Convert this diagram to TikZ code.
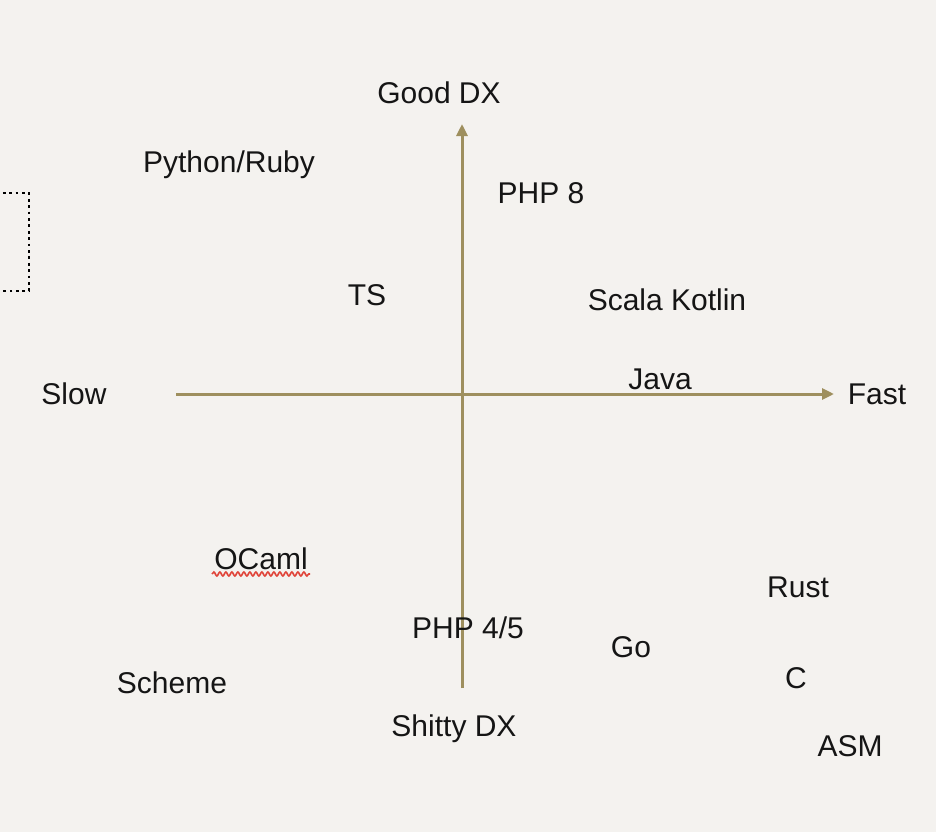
\documentclass[tikz,border=0pt]{standalone}
\usepackage{fontspec}
\setmainfont{Liberation Sans}
\usetikzlibrary{decorations.pathmorphing,arrows.meta}
\definecolor{bg}{HTML}{F4F2EF}
\definecolor{axis}{HTML}{9E8F5E}
\definecolor{txt}{HTML}{151515}
\definecolor{squig}{HTML}{E0453A}
\tikzset{
  lbl/.style={font=\fontsize{30}{34}\selectfont, text=txt, inner sep=0pt, anchor=base},
  axisline/.style={draw=axis, line width=3pt, -{Triangle[length=12pt,width=11pt]}},
}
\begin{document}
\begin{tikzpicture}[x=1pt,y=-1pt]
\useasboundingbox[fill=bg] (0,0) rectangle (936,832);
\coordinate (vb) at (462,688);
\coordinate (vt) at (462,124);
\coordinate (hl) at (176,394);
\coordinate (hr) at (834,394);
\draw[axisline] (vb) -- (vt);
\draw[axisline] (hl) -- (hr);
\draw[black, line width=2.8pt, dash pattern=on 2.8pt off 3.6pt] (-10,193) -- (29,193) -- (29,291) -- (-10,291);
\node[lbl] (good) at (439,103) {Good DX};
\node[lbl] (py) at (229,172) {Python/Ruby};
\node[lbl] (php8) at (541,203) {PHP 8};
\node[lbl] (ts) at (367,305) {TS};
\node[lbl] (scala) at (667,310) {Scala Kotlin};
\node[lbl] (java) at (660,389) {Java};
\node[lbl] (slow) at (74,404) {Slow};
\node[lbl] (fast) at (877,404) {Fast};
\node[lbl] (ocaml) at (261,569) {OCaml};
\node[lbl] (rust) at (798,597) {Rust};
\node[lbl] (php45) at (468,638) {PHP 4/5};
\node[lbl] (go) at (631,657) {Go};
\node[lbl] (scheme) at (172,693) {Scheme};
\node[lbl] (c) at (796,688) {C};
\node[lbl] (shitty) at (454,736) {Shitty DX};
\node[lbl] (asm) at (850,756) {ASM};
\coordinate (sqa) at (212,574);
\coordinate (sqb) at (310,574);
\draw[squig, line width=1.6pt, decorate, decoration={snake, amplitude=2pt, segment length=6pt}] (sqa) -- (sqb);
\end{tikzpicture}
\end{document}
